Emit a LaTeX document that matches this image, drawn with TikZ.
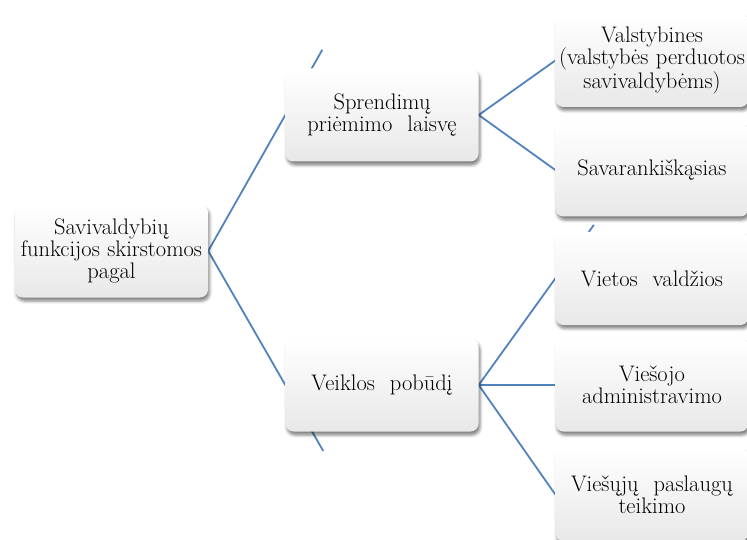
\documentclass[tikz,border=0pt]{standalone}
\usepackage{fontspec}
\usetikzlibrary{positioning}
\usetikzlibrary{shadows.blur}
\usetikzlibrary{backgrounds}
\usepackage{xcolor}
\definecolor{linkblue}{RGB}{82,130,190}

\begin{document}
\begin{tikzpicture}[x=1pt, y=-1pt,
  box/.style={rounded corners=8pt, minimum width=193pt, minimum height=93pt, text width=192pt, inner sep=0.5pt, align=center,
    top color=white, bottom color=black!9, font=\fontsize{22.5}{22}\selectfont,
    blur shadow={shadow xshift=1.5pt, shadow yshift=-3.5pt, shadow blur radius=3pt, shadow opacity=50}},
  leaf/.style={box, minimum width=190pt},
  link/.style={linkblue, line width=1.8pt}]

\useasboundingbox (0,0) rectangle (747,540);

\node[box] (root) at (111.5,251) {Savivaldybių\\ funkcijos skirstomos\\ pagal};

\node[box] (sprend) at (382,115) {Sprendimų\\ priėmimo\ \ laisvę};
\node[box] (veik) at (382,385) {Veiklos\ \ pobūdį};

\node[leaf] (valst) at (652,60.5) {Valstybines\\ (valstybės perduotos\\ savivaldybėms)};
\node[leaf] (savar) at (652,170) {Savarankiškąsias};

\node[leaf] (vietos) at (652,278.5) {Vietos\ \ valdžios};
\node[leaf] (viesojo) at (652,385) {Viešojo\\ administravimo};
\node[leaf] (viesuju) at (652,494.5) {Viešųjų\ \ paslaugų\\ teikimo};

\begin{pgfonlayer}{background}
\draw[link, shorten >=-75pt] (root.east) -- (sprend.west);
\draw[link, shorten >=-76pt] (root.east) -- (veik.west);

\draw[link] (sprend.east) -- (valst.west);
\draw[link] (sprend.east) -- (savar.west);

\draw[link, shorten >=-66pt] (veik.east) -- (vietos.west);
\draw[link] (veik.east) -- (viesojo.west);
\draw[link] (veik.east) -- (viesuju.west);
\end{pgfonlayer}

\end{tikzpicture}
\end{document}
